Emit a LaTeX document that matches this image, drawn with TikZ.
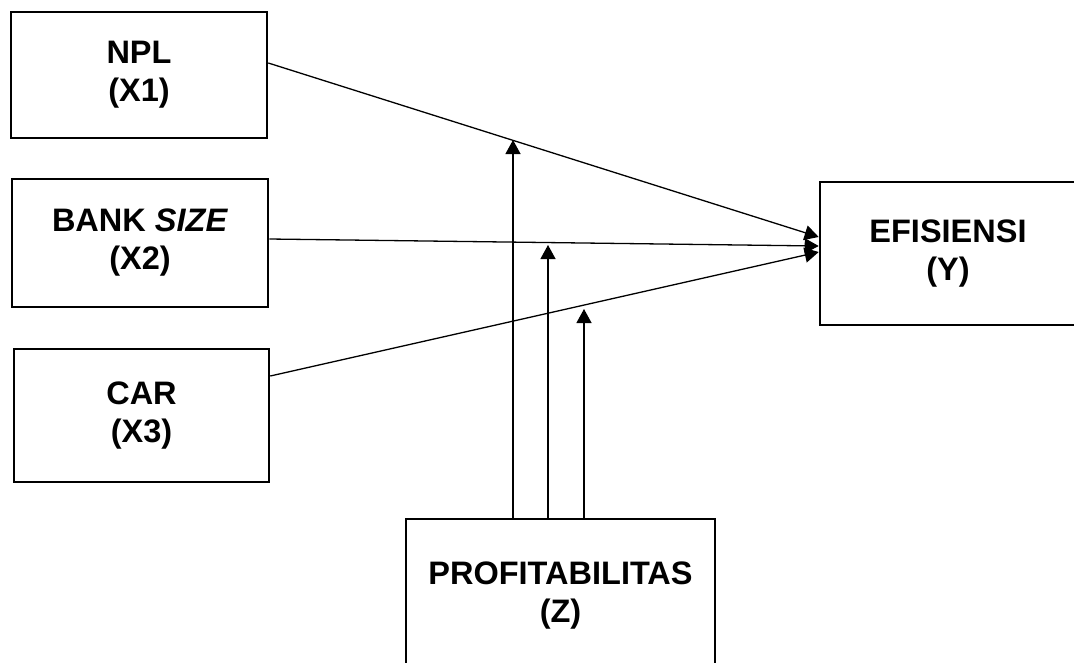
\documentclass[tikz,border=0pt]{standalone}
\usepackage{fontspec}
\setmainfont{Liberation Sans}
\usetikzlibrary{arrows.meta,calc}
\tikzset{
  varbox/.style={draw=black, line width=2.6pt, fill=white, align=center, inner sep=0pt,
    font=\bfseries\fontsize{32.5}{38}\selectfont},
  conn/.style={draw=black, line width=1.3pt, -{Triangle[length=14pt,width=15pt]}}
}
\begin{document}
\begin{tikzpicture}[x=1pt,y=-1pt]
\useasboundingbox (0,0) rectangle (1074,662);
\clip (0,0) rectangle (1074,662);
\fill[white] (0,0) rectangle (1074,662);
\node[varbox, minimum width=256pt, minimum height=126pt] (npl) at (139,75) {NPL\\(X1)};
\node[varbox, minimum width=256pt, minimum height=128pt] (size) at (140,243) {BANK \textit{SIZE}\\(X2)};
\node[varbox, minimum width=255pt, minimum height=133pt] (car) at (141.5,415.5) {CAR\\(X3)};
\node[varbox, minimum width=256pt, minimum height=143pt] (efi) at (948,253.5) {EFISIENSI\\(Y)};
\node[varbox, minimum width=309pt, minimum height=153pt] (prof) at (560.5,595.5) {PROFITABILITAS\\(Z)};
\coordinate (m1) at (513,140);
\coordinate (m2) at (548,245);
\coordinate (m3) at (584,309);
\draw[conn] ([yshift=12pt]npl.east) -- ([yshift=16.5pt]efi.west);
\draw[conn] ([yshift=4pt]size.east) -- ([yshift=7.5pt]efi.west);
\draw[conn] ([yshift=39.5pt]car.east) -- ([yshift=1.5pt]efi.west);
\draw[conn] ([xshift=-47.5pt]prof.north) -- (m1);
\draw[conn] ([xshift=-12.5pt]prof.north) -- (m2);
\draw[conn] ([xshift=23.5pt]prof.north) -- (m3);
\end{tikzpicture}
\end{document}
